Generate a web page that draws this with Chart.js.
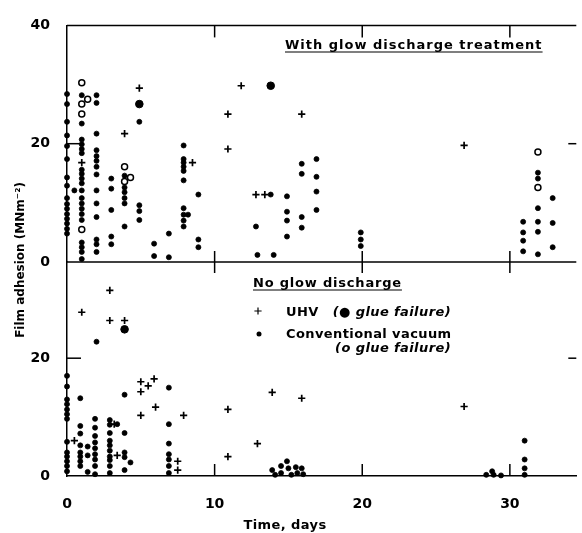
<!DOCTYPE html>
<html>
<head>
<meta charset="utf-8">
<script src="https://cdn.jsdelivr.net/npm/chart.js@4"></script>
<style>
  body { margin: 0; background: #fff; }
</style>
</head>
<body>
<canvas id="myChart" width="582" height="533"></canvas>
<script>
// tick labels
const dayTicks = [0, 10, 20, 30]
const topTicks = [0, 20, 40]
const bottomTicks = [0, 20]

// upper panel: with glow discharge treatment  [day, adhesion]
const topConventional = [
    [0, 28.4], [0, 26.7], [0, 23.7], [0, 21.4], [0, 19.6], [0, 17.4], [0, 14.3], [0, 12.9], [0, 10.8],
    [0, 9.8], [0, 9.0], [0, 8.1], [0, 7.3], [0, 6.5], [0, 5.6], [0, 4.8], [0.5, 12.1],
    [1, 28.2], [1, 23.4], [1, 20.7], [1, 19.9], [1, 19.1], [1, 18.4], [1, 15.6], [1, 14.9], [1, 14.1],
    [1, 13.3], [1, 12.1], [1, 10.8], [1, 9.9], [1, 9.0], [1, 8.1], [1, 7.1], [1, 3.3], [1, 2.5], [1, 1.7], [1, 0.5],
    [2, 28.2], [2, 26.9], [2, 21.7], [2, 18.9], [2, 17.9], [2, 17.1], [2, 16.1], [2, 14.8], [2, 12.1],
    [2, 9.9], [2, 7.6], [2, 3.8], [2, 3.0], [2, 1.7],
    [3, 14.1], [3, 12.4], [3, 8.8], [3, 4.3], [3, 3.0],
    [3.9, 14.6], [3.9, 12.6], [3.9, 11.8], [3.9, 10.8], [3.9, 9.9], [3.9, 6.0],
    [4.9, 23.7], [4.9, 9.6], [4.9, 8.6], [4.9, 7.1],
    [5.9, 3.1], [5.9, 1.0], [6.9, 4.8], [6.9, 0.8],
    [7.9, 19.7], [7.9, 17.4], [7.9, 16.8], [7.9, 16.1], [7.9, 15.4], [7.9, 13.8], [7.9, 9.1], [7.9, 8.0],
    [7.9, 7.0], [7.9, 6.0], [8.2, 8.0],
    [8.9, 11.4], [8.9, 3.8], [8.9, 2.5],
    [12.8, 6.0], [12.9, 1.2], [13.8, 11.4], [14, 1.2],
    [14.9, 11.1], [14.9, 8.5], [14.9, 7.0], [14.9, 4.3],
    [15.9, 16.6], [15.9, 14.9], [15.9, 7.6], [15.9, 5.8],
    [16.9, 17.4], [16.9, 14.4], [16.9, 11.9], [16.9, 8.8],
    [19.9, 5.0], [19.9, 3.8], [19.9, 2.7],
    [30.9, 6.8], [30.9, 5.0], [30.9, 3.6], [30.9, 1.8],
    [31.9, 15.1], [31.9, 14.1], [31.9, 9.1], [31.9, 6.8], [31.9, 5.1], [31.9, 1.3],
    [32.9, 10.8], [32.9, 6.6], [32.9, 2.5]
]
const topConventionalGlue = [
    [1, 30.3], [1, 26.7], [1, 25.0], [1.4, 27.5], [1, 5.5],
    [3.9, 16.1], [3.9, 13.6], [4.3, 14.3], [31.9, 18.6], [31.9, 12.6]
]
const topUhv = [
    [1, 16.8], [3.9, 21.7], [4.9, 29.4], [8.5, 16.8], [10.9, 25.0], [10.9, 19.1], [11.8, 29.8],
    [12.8, 11.4], [13.4, 11.4], [15.9, 25.0], [26.9, 19.7]
]
const topUhvGlue = [[4.9, 26.7], [13.8, 29.8]]

// lower panel: no glow discharge
const bottomConventional = [
    [2, 22.8],
    [0, 17.0], [0, 15.2], [0, 13.0], [0, 12.2], [0, 11.3], [0, 10.5], [0, 9.7], [0, 5.8], [0, 4.0],
    [0, 3.3], [0, 2.5], [0, 1.7], [0, 0.8],
    [0.9, 13.2], [0.9, 8.5], [0.9, 7.2], [0.9, 5.2], [0.9, 4.0], [0.9, 3.3], [0.9, 2.5], [0.9, 1.7],
    [1.4, 5.0], [1.4, 3.5], [1.4, 0.7],
    [1.9, 9.7], [1.9, 8.2], [1.9, 6.8], [1.9, 5.7], [1.9, 4.7], [1.9, 3.7], [1.9, 2.8], [1.9, 1.7], [1.9, 0.3],
    [2.9, 9.5], [2.9, 8.7], [2.9, 7.3], [2.9, 6.0], [2.9, 5.2], [2.9, 4.3], [2.9, 3.3], [2.9, 2.7],
    [2.9, 1.7], [2.9, 0.5], [3.4, 8.8],
    [3.9, 13.8], [3.9, 7.3], [3.9, 4.0], [3.9, 3.2], [3.9, 1.0], [4.3, 2.3],
    [6.9, 15.0], [6.9, 8.8], [6.9, 5.5], [6.9, 3.7], [6.9, 2.8], [6.9, 1.7], [6.9, 0.5],
    [13.9, 1.0], [14.1, 0.2], [14.5, 1.7], [14.5, 0.5], [14.9, 2.5], [15.0, 1.3], [15.2, 0.2],
    [15.5, 1.5], [15.6, 0.5], [15.9, 1.3], [16.0, 0.3],
    [28.4, 0.2], [28.8, 0.8], [28.9, 0.2], [29.4, 0.1],
    [31, 6.0], [31, 2.8], [31, 1.3], [31, 0.2]
]
const bottomUhv = [
    [2.9, 31.5], [1.0, 27.8], [2.9, 26.4], [3.9, 26.4], [0.5, 6.0], [3.2, 8.8], [3.4, 3.5],
    [5.0, 16.0], [5.0, 14.3], [5.5, 15.3], [5.9, 16.5], [6.0, 11.7], [5.0, 10.3], [7.9, 10.3],
    [7.5, 2.5], [7.5, 1.0], [10.9, 11.3], [10.9, 3.3], [12.9, 5.5], [13.9, 14.2], [15.9, 13.2], [26.9, 11.8]
]
const bottomUhvGlue = [[3.9, 24.9]]

const FONT = '"DejaVu Sans"'
const toXY = arr => arr.map(p => ({x: p[0], y: p[1]}))

const dotStyle = {pointStyle: 'circle', pointRadius: 2.5, pointBackgroundColor: '#000', pointBorderColor: '#000', pointBorderWidth: 0.8}
const openStyle = {pointStyle: 'circle', pointRadius: 3, pointBackgroundColor: '#fff', pointBorderColor: '#000', pointBorderWidth: 1.5}
const crossStyle = {pointStyle: 'cross', pointRadius: 3.6, pointBorderColor: '#000', pointBorderWidth: 1.7}
const bigDotStyle = {pointStyle: 'circle', pointRadius: 3.8, pointBackgroundColor: '#000', pointBorderColor: '#000', pointBorderWidth: 1}

const Data = [
    {data: toXY(topConventional), yAxisID: 'yTop', ...dotStyle},
    {data: toXY(topConventionalGlue), yAxisID: 'yTop', ...openStyle},
    {data: toXY(topUhv), yAxisID: 'yTop', ...crossStyle},
    {data: toXY(topUhvGlue), yAxisID: 'yTop', ...bigDotStyle},
    {data: toXY(bottomConventional), yAxisID: 'yBot', ...dotStyle},
    {data: toXY(bottomUhv), yAxisID: 'yBot', ...crossStyle},
    {data: toXY(bottomUhvGlue), yAxisID: 'yBot', ...bigDotStyle},
].map(d => ({...d, showLine: false, clip: false}))

// frame, inner tick marks, panel captions and key
const overlay = {
    id: 'overlay',
    afterDraw(chart) {
        const {ctx, chartArea: a, scales} = chart
        const x = scales.x, yt = scales.yTop, yb = scales.yBot
        const line = (x1, y1, x2, y2) => { ctx.beginPath(); ctx.moveTo(x1, y1); ctx.lineTo(x2, y2); ctx.stroke() }
        ctx.save()
        ctx.strokeStyle = '#000'
        ctx.lineWidth = 1.5
        const mid = yt.getPixelForValue(0)
        line(a.left, a.top, a.right, a.top)
        line(a.left, mid, a.right, mid)
        dayTicks.filter(d => d > 0).forEach(d => {
            const px = x.getPixelForValue(d)
            line(px, a.top, px, a.top + 12)
            line(px, mid - 11, px, mid + 11)
            line(px, a.bottom, px, a.bottom - 12)
        })
        const t1 = yt.getPixelForValue(20), t2 = yb.getPixelForValue(20)
        line(a.left, t1, a.left + 14, t1)
        line(a.left, t2, a.left + 14, t2)
        line(a.right - 8, t1, a.right, t1)
        line(a.right - 8, t2, a.right, t2)

        ctx.fillStyle = '#000'
        ctx.textBaseline = 'alphabetic'
        const underlined = (txt, lx, by) => {
            ctx.textAlign = 'left'
            ctx.fillText(txt, lx, by)
            const w = ctx.measureText(txt).width
            ctx.lineWidth = 1.2
            line(lx, by + 3, lx + w, by + 3)
        }
        ctx.font = 'bold 13px ' + FONT
        ctx.letterSpacing = '1px'
        underlined('With glow discharge treatment', 285, 49)
        ctx.letterSpacing = '0.8px'
        underlined('No glow discharge', 253, 287)

        Chart.helpers.drawPoint(ctx, {pointStyle: 'cross', radius: 3.6, borderWidth: 1.7}, 258, 311)
        ctx.fillStyle = '#000'
        ctx.beginPath(); ctx.arc(259, 334, 2.5, 0, Math.PI * 2); ctx.fill()

        ctx.letterSpacing = '0.4px'
        ctx.font = 'bold 13px ' + FONT
        ctx.textAlign = 'left'
        ctx.fillText('UHV', 286, 316)
        ctx.fillText('Conventional vacuum', 286, 338)
        ctx.font = 'italic bold 13px ' + FONT
        ctx.textAlign = 'right'
        ctx.fillText('(\u25CF glue failure)', 451, 316)
        ctx.fillText('(o glue failure)', 451, 352)

        ctx.font = 'bold 13px ' + FONT
        ctx.textAlign = 'center'
        ctx.fillText('Time, days', 285, 529)

        ctx.letterSpacing = '0px'
        ctx.translate(24, 260)
        ctx.rotate(-Math.PI / 2)
        ctx.font = 'bold 12px ' + FONT
        ctx.fillText('Film adhesion (MNm\u207B\u00B2)', 0, 0)
        ctx.restore()
    }
}

const tickFont = {family: FONT, size: 14, weight: 'bold'}

const ctx = document.getElementById('myChart').getContext('2d')
const myChart = new Chart(ctx, {
    type: 'scatter',
    data: {datasets: Data},
    options: {
        responsive: false,
        animation: false,
        layout: {padding: {top: 17, right: 0, left: 0, bottom: 0}},
        plugins: {legend: {display: false}, tooltip: {enabled: false}},
        scales: {
            x: {
                type: 'linear', min: 0, max: 34.5,
                grid: {display: false, drawTicks: false},
                border: {display: true, color: '#000', width: 1.5},
                ticks: {color: '#000', font: tickFont, padding: 20},
                afterBuildTicks: s => { s.ticks = dayTicks.map(v => ({value: v})) },
                afterFit: s => { s.height = 57 }
            },
            yBot: {
                type: 'linear', position: 'left', stack: 'panels', stackWeight: 218,
                min: 0, max: 218 / 6,
                grid: {display: false, drawTicks: false},
                border: {display: true, color: '#000', width: 1.5},
                ticks: {color: '#000', font: tickFont, padding: 17},
                afterBuildTicks: s => { s.ticks = bottomTicks.map(v => ({value: v})) },
                afterFit: s => { s.width = 67 }
            },
            yTop: {
                type: 'linear', position: 'left', stack: 'panels', stackWeight: 241,
                min: 0, max: 40,
                grid: {display: false, drawTicks: false},
                border: {display: true, color: '#000', width: 1.5},
                ticks: {color: '#000', font: tickFont, padding: 17},
                afterBuildTicks: s => { s.ticks = topTicks.map(v => ({value: v})) },
                afterFit: s => { s.width = 67 }
            }
        }
    },
    plugins: [overlay]
})
</script>
</body>
</html>
